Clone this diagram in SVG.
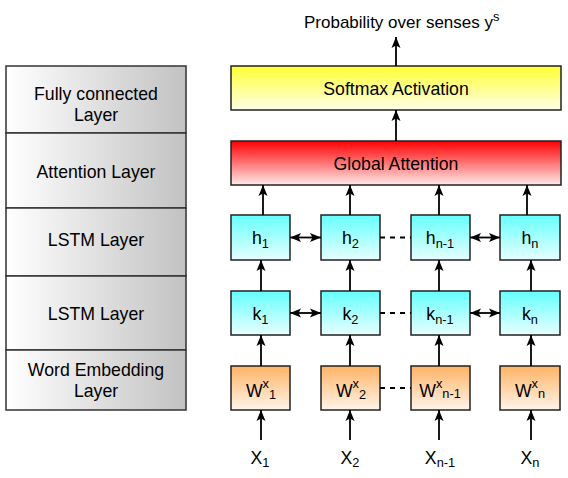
<svg xmlns="http://www.w3.org/2000/svg" width="568" height="478" viewBox="0 0 568 478">
<defs>
<linearGradient id="gGray" x1="0" y1="0" x2="1" y2="0"><stop offset="0" stop-color="#ffffff"/><stop offset="1" stop-color="#c2c2c2"/></linearGradient>
<linearGradient id="gYellow" x1="0" y1="0" x2="0" y2="1"><stop offset="0" stop-color="#ffff33"/><stop offset="1" stop-color="#ffffe8"/></linearGradient>
<linearGradient id="gRed" x1="0" y1="0" x2="0" y2="1"><stop offset="0" stop-color="#ff0000"/><stop offset="1" stop-color="#ffeaea"/></linearGradient>
<linearGradient id="gCyan" x1="0" y1="0" x2="0" y2="1"><stop offset="0" stop-color="#66ffff"/><stop offset="1" stop-color="#e8ffff"/></linearGradient>
<linearGradient id="gOrange" x1="0" y1="0" x2="0" y2="1"><stop offset="0" stop-color="#ffb366"/><stop offset="1" stop-color="#fff4ea"/></linearGradient>
<marker id="arr" viewBox="0 0 11 10" refX="11" refY="5" markerWidth="11" markerHeight="10" markerUnits="userSpaceOnUse" orient="auto-start-reverse"><path d="M0,0.5 L11,5 L0,9.5 L2.5,5 z" fill="#000"/></marker>
</defs>
<style>
text{font-family:"Liberation Sans",Arial,sans-serif;fill:#000;}
.lbl{font-size:17.7px;text-anchor:middle;}
.sm{font-size:12.8px;}
.layer{fill:url(#gGray);stroke:#333;stroke-width:1.5;}
.box{stroke:#222;stroke-width:1.5;}
.cyan{fill:url(#gCyan);}
.orange{fill:url(#gOrange);}
.c{fill:none;stroke:#000;stroke-width:1.8;}
.a{marker-end:url(#arr);}
.b{marker-start:url(#arr);marker-end:url(#arr);}
.d{stroke-dasharray:5 5;}
</style>
<g id="layers">
<g id="layer-fc"><rect class="layer" x="6" y="66" width="180" height="67"/><text class="lbl" x="96" y="100">Fully connected</text><text class="lbl" x="96" y="121">Layer</text></g>
<g id="layer-att"><rect class="layer" x="6" y="133" width="180" height="75"/><text class="lbl" x="96" y="178">Attention Layer</text></g>
<g id="layer-lstm1"><rect class="layer" x="6" y="208" width="180" height="68"/><text class="lbl" x="96" y="246">LSTM Layer</text></g>
<g id="layer-lstm2"><rect class="layer" x="6" y="276" width="180" height="74"/><text class="lbl" x="96" y="320">LSTM Layer</text></g>
<g id="layer-emb"><rect class="layer" x="6" y="350" width="180" height="60"/><text class="lbl" x="96" y="376">Word Embedding</text><text class="lbl" x="96" y="397">Layer</text></g>
</g>
<g id="output-label"><text x="304" y="28" style="font-size:17px">Probability over senses y<tspan class="sm" dy="-7">s</tspan></text></g>
<g id="softmax"><rect class="box" x="231" y="66" width="330" height="44" fill="url(#gYellow)"/><text class="lbl" x="396" y="94.5">Softmax Activation</text></g>
<g id="attention"><rect class="box" x="231" y="141" width="330" height="44" fill="url(#gRed)"/><text class="lbl" x="396" y="169.5">Global Attention</text></g>
<g id="h1"><rect class="box cyan" x="231" y="215" width="59" height="45"/><text class="lbl" x="260.5" y="243.5">h<tspan class="sm" dy="4.5">1</tspan></text></g>
<g id="h2"><rect class="box cyan" x="321" y="215" width="59" height="45"/><text class="lbl" x="350.5" y="243.5">h<tspan class="sm" dy="4.5">2</tspan></text></g>
<g id="hn-1"><rect class="box cyan" x="411" y="215" width="59" height="45"/><text class="lbl" x="440" y="243.5">h<tspan class="sm" dy="4.5">n-1</tspan></text></g>
<g id="hn"><rect class="box cyan" x="500" y="215" width="60" height="45"/><text class="lbl" x="530" y="243.5">h<tspan class="sm" dy="4.5">n</tspan></text></g>
<g id="k1"><rect class="box cyan" x="231" y="291" width="59" height="44"/><text class="lbl" x="260.5" y="319.5">k<tspan class="sm" dy="4.5">1</tspan></text></g>
<g id="k2"><rect class="box cyan" x="321" y="291" width="59" height="44"/><text class="lbl" x="350.5" y="319.5">k<tspan class="sm" dy="4.5">2</tspan></text></g>
<g id="kn-1"><rect class="box cyan" x="411" y="291" width="59" height="44"/><text class="lbl" x="440" y="319.5">k<tspan class="sm" dy="4.5">n-1</tspan></text></g>
<g id="kn"><rect class="box cyan" x="500" y="291" width="60" height="44"/><text class="lbl" x="530" y="319.5">k<tspan class="sm" dy="4.5">n</tspan></text></g>
<g id="W1"><rect class="box orange" x="231" y="366" width="59" height="44"/><text class="lbl" x="261" y="396.5">W<tspan class="sm" dy="-8.5">x</tspan><tspan class="sm" dy="11">1</tspan></text></g>
<g id="W2"><rect class="box orange" x="321" y="366" width="59" height="44"/><text class="lbl" x="351" y="396.5">W<tspan class="sm" dy="-8.5">x</tspan><tspan class="sm" dy="11">2</tspan></text></g>
<g id="Wn-1"><rect class="box orange" x="411" y="366" width="59" height="44"/><text class="lbl" x="440" y="396.5">W<tspan class="sm" dy="-8.5">x</tspan><tspan class="sm" dy="10">n-1</tspan></text></g>
<g id="Wn"><rect class="box orange" x="500" y="366" width="60" height="44"/><text class="lbl" x="530" y="396.5">W<tspan class="sm" dy="-8.5">x</tspan><tspan class="sm" dy="10">n</tspan></text></g>
<g id="inputs">
<text class="lbl" x="260" y="464">X<tspan class="sm" dy="3">1</tspan></text>
<text class="lbl" x="350" y="464">X<tspan class="sm" dy="3">2</tspan></text>
<text class="lbl" x="440" y="464">X<tspan class="sm" dy="3">n-1</tspan></text>
<text class="lbl" x="530" y="464">X<tspan class="sm" dy="3">n</tspan></text>
</g>
<g id="connectors">
<path class="c a" d="M396,66 V37"/>
<path class="c a" d="M396,141 V110"/>
<path class="c a" d="M263,215 V185"/>
<path class="c a" d="M350,215 V185"/>
<path class="c a" d="M439,215 V185"/>
<path class="c a" d="M527,215 V185"/>
<path class="c a" d="M261,291 V260"/>
<path class="c a" d="M350,291 V260"/>
<path class="c a" d="M439,291 V260"/>
<path class="c a" d="M531,291 V260"/>
<path class="c a" d="M261,366 V335"/>
<path class="c a" d="M350,366 V335"/>
<path class="c a" d="M439,366 V335"/>
<path class="c a" d="M531,366 V335"/>
<path class="c a" d="M261,440 V410"/>
<path class="c a" d="M350,440 V410"/>
<path class="c a" d="M439,440 V410"/>
<path class="c a" d="M531,440 V410"/>
<path class="c b" d="M290,237.5 H321"/>
<path class="c b" d="M470,237.5 H500"/>
<path class="c b" d="M290,313 H321"/>
<path class="c b" d="M470,313 H500"/>
<path class="c d" d="M380,237.5 H411"/>
<path class="c d" d="M380,313 H411"/>
<path class="c d" d="M380,388 H411"/>
</g>
</svg>
